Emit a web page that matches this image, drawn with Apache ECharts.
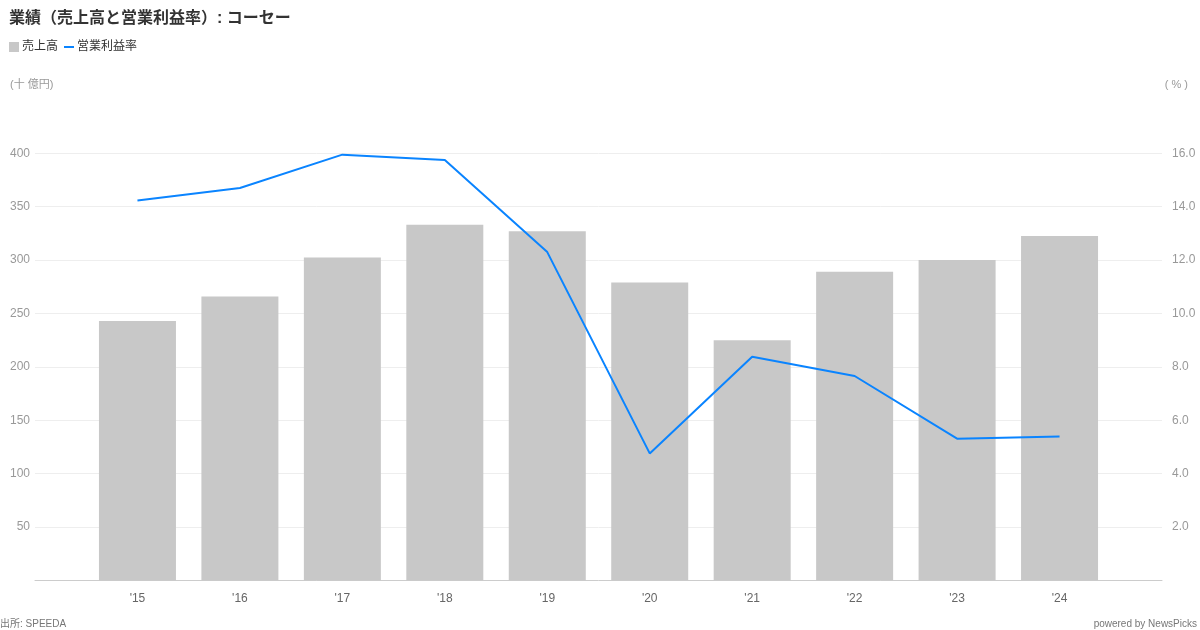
<!DOCTYPE html>
<html><head><meta charset="utf-8">
<script src="https://cdn.jsdelivr.net/npm/echarts@6/dist/echarts.min.js"></script>
<style>html,body{margin:0;padding:0;background:#fff}#c{width:1200px;height:630px}</style>
</head><body><div id="c"></div>
<script>
const years = [2015, 2016, 2017, 2018, 2019, 2020, 2021, 2022, 2023, 2024];
const sales = [243, 266, 302.5, 333, 327, 279, 225, 289, 300, 322.5];
const margin = [14.23, 14.70, 15.95, 15.75, 12.30, 4.76, 8.38, 7.66, 5.31, 5.39];
const leftTicks = { max: 400, interval: 50 };
const rightTicks = { max: 16, interval: 2 };

const FONT = '"Liberation Sans", "Noto Sans CJK JP", sans-serif';
const chart = echarts.init(document.getElementById('c'));
chart.setOption({
  animation: false,
  textStyle: { fontFamily: FONT },
  title: {
    text: '業績（売上高と営業利益率）: コーセー',
    left: 4, top: 6,
    textStyle: { fontSize: 16, fontWeight: 'bold', color: '#333', fontFamily: FONT }
  },
  legend: {
    left: 4, top: 36, itemGap: 6, itemWidth: 10, itemHeight: 10,
    textStyle: { fontSize: 12, color: '#333', fontFamily: FONT, padding: [0, 0, 0, -2] },
    data: [
      { name: '売上高', icon: 'rect' },
      { name: '営業利益率', icon: 'path://M0,0 L10,0 L10,2 L0,2 Z' }
    ]
  },
  grid: { left: 35, right: 38, top: 153.3, bottom: 49.5, containLabel: false },
  xAxis: {
    type: 'value', min: 2014, max: 2025, interval: 1,
    axisLine: { show: true, lineStyle: { color: '#ccc' } },
    axisTick: { show: false },
    splitLine: { show: false },
    axisLabel: {
      margin: 12, fontSize: 12, color: '#666',
      formatter: v => (years.includes(v) ? "'" + String(v).slice(2) : '')
    }
  },
  yAxis: [
    {
      type: 'value', min: 0, max: leftTicks.max, interval: leftTicks.interval,
      name: '(十 億円)', nameLocation: 'end', nameGap: 63,
      nameTextStyle: { color: '#999', fontSize: 11, align: 'left', padding: [0, 0, 0, -25] },
      axisLine: { show: false }, axisTick: { show: false },
      splitLine: { lineStyle: { color: '#eee' } },
      axisLabel: { margin: 5, fontSize: 12, color: '#999', formatter: v => (v === 0 ? '' : String(v)) }
    },
    {
      type: 'value', min: 0, max: rightTicks.max, interval: rightTicks.interval,
      name: '( % )', nameLocation: 'end', nameGap: 63,
      nameTextStyle: { color: '#999', fontSize: 11, align: 'right', padding: [0, -26, 0, 0] },
      axisLine: { show: false }, axisTick: { show: false },
      splitLine: { show: false },
      axisLabel: { margin: 10, fontSize: 12, color: '#999', formatter: v => (v === 0 ? '' : v.toFixed(1)) }
    }
  ],
  series: [
    {
      name: '売上高', type: 'bar', yAxisIndex: 0, barWidth: 77,
      itemStyle: { color: '#c8c8c8' },
      data: years.map((y, i) => [y, sales[i]])
    },
    {
      name: '営業利益率', type: 'line', yAxisIndex: 1,
      symbol: 'none', lineStyle: { color: '#0a84ff', width: 2 },
      itemStyle: { color: '#0a84ff' },
      data: years.map((y, i) => [y, margin[i]])
    }
  ],
  graphic: [
    { type: 'text', left: 0, top: 619, style: { text: '出所: SPEEDA', fontSize: 10, fill: '#777', fontFamily: FONT } },
    { type: 'text', right: 3, top: 619, style: { text: 'powered by NewsPicks', fontSize: 10, fill: '#777', fontFamily: FONT } }
  ]
});
</script></body></html>
